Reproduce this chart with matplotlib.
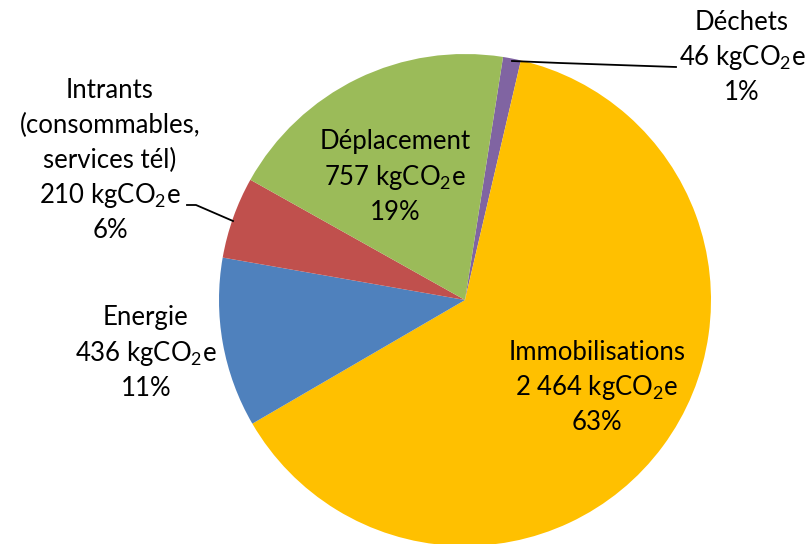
import matplotlib.pyplot as plt

plt.rcParams['font.family'] = ['Lato', 'DejaVu Sans']
plt.rcParams['mathtext.fontset'] = 'custom'
plt.rcParams['mathtext.rm'] = 'Lato'
plt.rcParams['mathtext.default'] = 'regular'

categories = ["Déchets", "Immobilisations", "Energie",
              "Intrants\n(consommables,\nservices tél)", "Déplacement"]
values = [46, 2464, 436, 210, 757]
pct_labels = ["1%", "63%", "11%", "6%", "19%"]
colors = ["#8064A2", "#FFC000", "#4F81BD", "#C0504D", "#9BBB59"]

W, H = 809, 544
fig = plt.figure(figsize=(W / 100, H / 100), dpi=100)
ax = fig.add_axes([0, 0, 1, 1])

cx, cy, r = 465, H - 300, 246
ax.pie(values, colors=colors, startangle=81.1, counterclock=False,
       center=(cx, cy), radius=r, frame=True)
ax.set_xlim(0, W)
ax.set_ylim(0, H)
ax.set_aspect('equal')
ax.axis('off')


def fmt(v):
    return f"{v:,}".replace(",", " ") + " kgCO$_2$e"


# label centres (pixel x, first line pixel y)
label_pos = [(742, 22), (597, 352), (146, 318), (110, 90), (395, 142)]
step = 35
for name, v, p, (x, y0) in zip(categories, values, pct_labels, label_pos):
    lines = name.split("\n") + [fmt(v), p]
    for i, t in enumerate(lines):
        ax.text(x, H - (y0 + i * step), t, ha='center', va='center',
                fontsize=18.5, color='black')

# leader lines
ax.plot([512, 560, 676], [H - 61, H - 63, H - 67], color='black', lw=1.3)
ax.plot([187, 196, 233], [H - 205, H - 205, H - 221], color='black', lw=1.3)

fig.savefig("out.png", dpi=100)
